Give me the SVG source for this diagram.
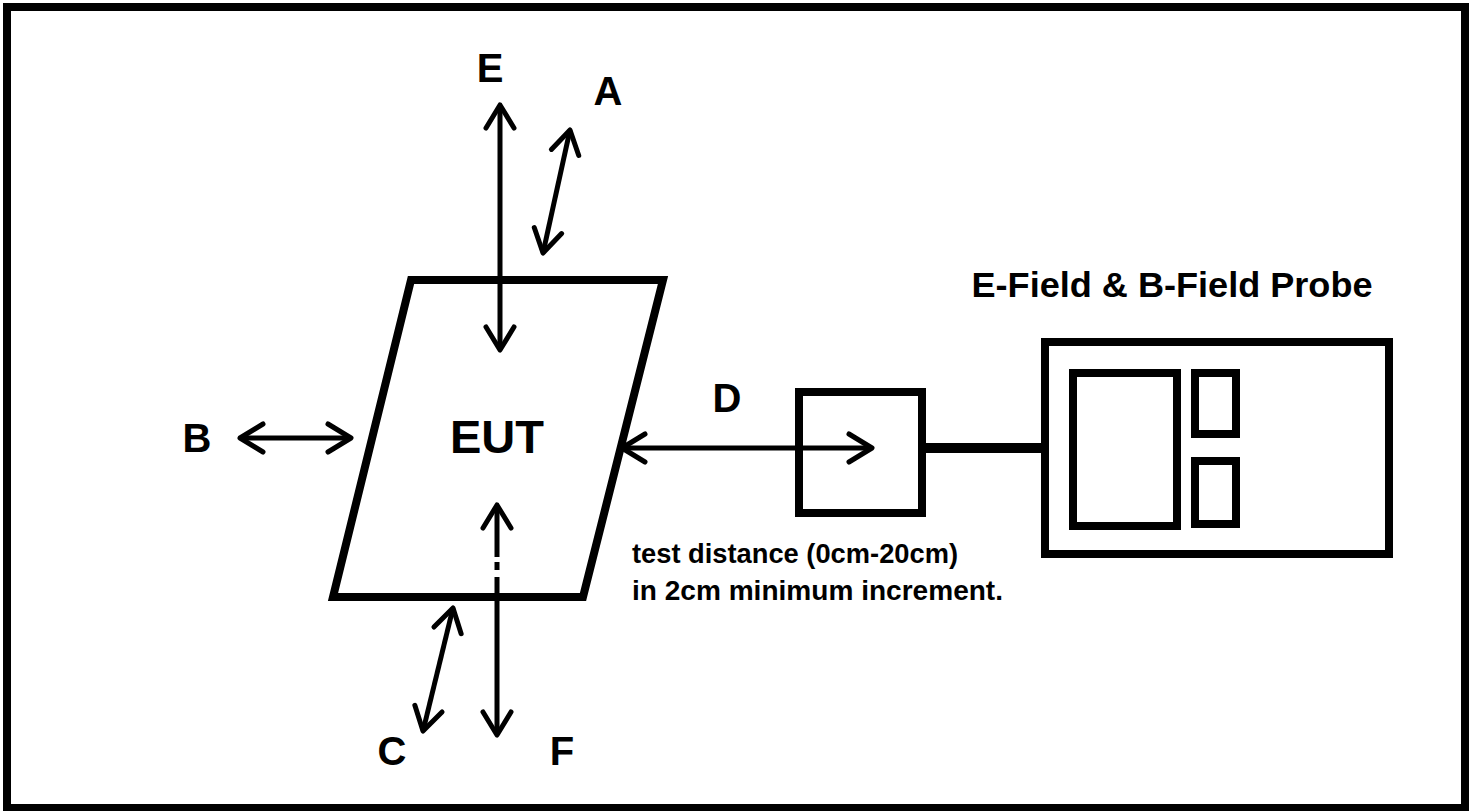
<svg xmlns="http://www.w3.org/2000/svg" width="1473" height="811" viewBox="0 0 1473 811">
<style>
.lbl{font-family:"Liberation Sans",Arial,sans-serif;font-weight:bold;fill:#000;text-anchor:middle}
.box{fill:none;stroke:#000;stroke-width:8}
.arr{fill:none;stroke:#000;stroke-width:5}
</style>
<defs>
<marker id="ah" markerUnits="userSpaceOnUse" markerWidth="40" markerHeight="40" viewBox="-30 -20 40 40" refX="0" refY="0" orient="auto-start-reverse">
<path d="M-23,-14 L0,0 L-23,14" fill="none" stroke="#000" stroke-width="5" stroke-linejoin="round" stroke-linecap="round"/>
</marker>
</defs>
<rect x="0" y="0" width="1473" height="811" fill="#fff"/>
<rect id="frame" x="7" y="7" width="1458" height="801" class="box"/>
<g id="eut">
<polygon points="411,280 663,280 583,597 333,597" fill="none" stroke="#000" stroke-width="8" stroke-linejoin="miter"/>
<text class="lbl" x="497" y="453" font-size="47">EUT</text>
</g>
<g id="probe-head">
<rect x="799" y="392" width="123" height="121" class="box"/>
</g>
<g id="probe-meter">
<rect x="1045" y="342" width="344" height="212" class="box"/>
<rect x="1073" y="373" width="104" height="153" class="box"/>
<rect x="1195" y="373" width="41" height="61" class="box"/>
<rect x="1195" y="461" width="41" height="63" class="box"/>
<text class="lbl" x="1172" y="297" font-size="35" textLength="401" lengthAdjust="spacingAndGlyphs">E-Field &amp; B-Field Probe</text>
</g>
<g id="labels">
<text class="lbl" x="490" y="82" font-size="40">E</text>
<text class="lbl" x="608" y="105" font-size="40">A</text>
<text class="lbl" x="197" y="452" font-size="40">B</text>
<text class="lbl" x="727" y="412" font-size="40">D</text>
<text class="lbl" x="392" y="765" font-size="40">C</text>
<text class="lbl" x="562" y="765" font-size="40">F</text>
<text class="lbl" x="632" y="563" font-size="27" style="text-anchor:start" textLength="326" lengthAdjust="spacingAndGlyphs">test distance (0cm-20cm)</text>
<text class="lbl" x="632" y="600" font-size="27" style="text-anchor:start" textLength="371" lengthAdjust="spacingAndGlyphs">in 2cm minimum increment.</text>
</g>
<g id="connectors">
<line x1="500" y1="105" x2="500" y2="350" class="arr" marker-start="url(#ah)" marker-end="url(#ah)"/>
<line x1="570" y1="130" x2="543" y2="253" class="arr" marker-start="url(#ah)" marker-end="url(#ah)"/>
<line x1="240" y1="438" x2="351" y2="438" class="arr" marker-start="url(#ah)" marker-end="url(#ah)"/>
<line x1="622" y1="448" x2="872" y2="448" class="arr" marker-start="url(#ah)" marker-end="url(#ah)"/>
<line x1="926" y1="448" x2="1041" y2="448" stroke="#000" stroke-width="10"/>
<line x1="497" y1="505" x2="497" y2="557" class="arr" marker-start="url(#ah)"/>
<line x1="497" y1="562" x2="497" y2="570" class="arr"/>
<line x1="497" y1="577" x2="497" y2="735" class="arr" marker-end="url(#ah)"/>
<line x1="453" y1="608" x2="423" y2="731" class="arr" marker-start="url(#ah)" marker-end="url(#ah)"/>
</g>
</svg>
